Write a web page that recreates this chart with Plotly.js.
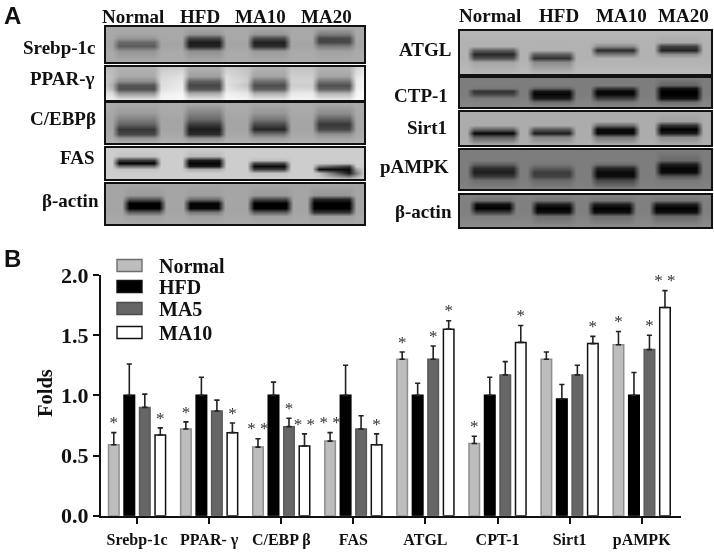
<!DOCTYPE html>
<html>
<head>
<meta charset="utf-8">
<script src="https://cdn.plot.ly/plotly-3.0.1.min.js"></script>
<style>
  html, body { margin: 0; padding: 0; background: #fff; }
  #plot { width: 714px; height: 552px; will-change: transform; }
</style>
</head>
<body>
<div id="plot"></div>
<script>
// Bar chart values
var categories = ['Srebp-1c', 'PPAR- γ', 'C/EBP β', 'FAS', 'ATGL', 'CPT-1', 'Sirt1', 'pAMPK'];
var seriesNames = ['Normal', 'HFD', 'MA5', 'MA10'];

var normalVals = [0.59, 0.72, 0.57, 0.62, 1.30, 0.60, 1.30, 1.42];
var hfdVals = [1.00, 1.00, 1.00, 1.00, 1.00, 1.00, 0.97, 1.00];
var ma5Vals = [0.90, 0.87, 0.74, 0.72, 1.30, 1.17, 1.17, 1.38];
var ma10Vals = [0.67, 0.69, 0.58, 0.59, 1.55, 1.44, 1.43, 1.73];

var normalErr = [0.10, 0.06, 0.07, 0.07, 0.06, 0.06, 0.06, 0.11];
var hfdErr = [0.26, 0.15, 0.11, 0.25, 0.10, 0.15, 0.12, 0.19];
var ma5Err = [0.11, 0.09, 0.07, 0.11, 0.11, 0.11, 0.08, 0.12];
var ma10Err = [0.06, 0.08, 0.10, 0.09, 0.07, 0.14, 0.06, 0.14];

var normalStars = ['*', '*', '* *', '* *', '*', '*', '', '*'];
var hfdStars = ['', '', '', '', '', '', '', ''];
var ma5Stars = ['', '', '*', '', '*', '', '', '*'];
var ma10Stars = ['*', '*', '* *', '*', '*', '*', '*', '* *'];

// Blot panel A, grey levels 0-255. Columns go edge, then 4 stops per lane, then edge
var leftStops = [0, 6, 13, 48, 55, 76, 83, 113, 120, 141, 148, 178, 185, 206, 213, 243, 250, 258];
var actinLeftStops = [0, 16, 23, 53, 60, 77, 84, 112, 119, 141, 148, 180, 187, 201, 208, 243, 250, 258];
var rightStops = [0, 7, 14, 53, 60, 67, 74, 109, 116, 130, 137, 173, 180, 194, 201, 236, 243, 251];
var actinRightStops = [0, 9, 16, 49, 56, 70, 77, 109, 116, 127, 134, 169, 176, 189, 196, 236, 243, 251];

var srebpRows = [0, 7, 11, 15, 19, 24, 35];
var srebpBlot = [
  [170, 170, 170, 170, 170, 170, 170, 170, 170, 170, 170, 170, 170, 170, 170, 170, 170, 170],
  [168, 168, 165, 165, 168, 168, 150, 150, 168, 168, 150, 150, 168, 168, 125, 125, 168, 168],
  [168, 168, 150, 150, 168, 168, 70, 70, 168, 168, 75, 75, 168, 168, 70, 75, 168, 168],
  [165, 165, 105, 105, 165, 165, 28, 28, 165, 165, 32, 32, 165, 165, 70, 72, 165, 165],
  [165, 165, 92, 92, 165, 165, 35, 35, 165, 165, 45, 45, 165, 165, 125, 125, 165, 165],
  [170, 170, 150, 150, 170, 170, 145, 145, 170, 170, 155, 155, 170, 170, 162, 162, 170, 170],
  [172, 172, 172, 172, 172, 172, 172, 172, 172, 172, 172, 172, 172, 172, 172, 172, 172, 172]
];
var pparRows = [0, 9, 14, 18, 22, 26, 33];
var pparBlot = [
  [185, 185, 178, 178, 200, 205, 178, 178, 205, 195, 180, 180, 195, 195, 180, 180, 210, 228],
  [195, 190, 170, 170, 215, 225, 160, 160, 220, 200, 165, 165, 205, 205, 165, 165, 225, 240],
  [195, 185, 140, 140, 220, 232, 95, 95, 225, 205, 110, 110, 210, 210, 115, 115, 235, 245],
  [195, 175, 85, 85, 220, 235, 70, 70, 225, 195, 78, 78, 205, 205, 80, 80, 235, 245],
  [205, 185, 80, 80, 225, 238, 85, 85, 230, 210, 95, 95, 215, 215, 100, 100, 238, 248],
  [225, 220, 150, 150, 238, 245, 170, 170, 240, 230, 175, 175, 232, 235, 180, 180, 245, 250],
  [240, 240, 238, 238, 245, 250, 238, 238, 250, 245, 238, 238, 245, 245, 238, 238, 250, 250]
];
var cebpRows = [0, 10, 16, 21, 26, 31, 35, 40];
var cebpBlot = [
  [172, 172, 170, 170, 172, 172, 170, 170, 172, 172, 170, 170, 172, 172, 170, 170, 172, 172],
  [168, 168, 155, 155, 168, 168, 130, 130, 168, 168, 150, 150, 168, 168, 140, 140, 168, 170],
  [165, 165, 128, 128, 165, 165, 105, 105, 165, 165, 120, 120, 165, 165, 95, 95, 165, 170],
  [165, 165, 100, 100, 165, 165, 60, 60, 165, 165, 75, 75, 165, 165, 55, 55, 165, 170],
  [165, 165, 55, 55, 165, 165, 28, 28, 165, 165, 38, 38, 165, 165, 70, 70, 165, 170],
  [168, 168, 70, 70, 168, 168, 45, 45, 168, 168, 115, 115, 168, 168, 145, 145, 168, 172],
  [172, 172, 150, 150, 172, 172, 145, 145, 172, 172, 160, 160, 172, 172, 165, 165, 172, 175],
  [178, 178, 178, 178, 178, 178, 178, 178, 178, 178, 178, 178, 178, 178, 178, 178, 178, 178]
];
var fasRows = [0, 8, 12, 15, 18, 21, 25, 31];
var fasBlot = [
  [205, 205, 205, 205, 205, 205, 205, 205, 205, 205, 205, 205, 205, 205, 205, 205, 205, 205],
  [205, 205, 195, 195, 205, 205, 185, 185, 205, 205, 205, 205, 205, 205, 205, 205, 205, 205],
  [205, 205, 60, 60, 205, 205, 30, 30, 205, 205, 190, 190, 205, 205, 205, 205, 205, 205],
  [205, 205, 5, 5, 205, 205, 5, 5, 205, 205, 70, 70, 205, 205, 200, 195, 205, 205],
  [205, 205, 110, 110, 205, 205, 25, 25, 205, 205, 10, 10, 205, 205, 120, 60, 205, 205],
  [205, 205, 195, 195, 205, 205, 170, 170, 205, 205, 60, 60, 205, 205, 10, 10, 160, 205],
  [205, 205, 205, 205, 205, 205, 205, 205, 205, 205, 195, 195, 205, 205, 190, 30, 120, 205],
  [205, 205, 205, 205, 205, 205, 205, 205, 205, 205, 205, 205, 205, 205, 205, 200, 205, 205]
];
var actinLeftRows = [0, 11, 15, 19, 24, 28, 32, 40];
var actinLeftBlot = [
  [165, 165, 165, 165, 165, 165, 165, 165, 165, 165, 165, 165, 165, 165, 165, 165, 165, 165],
  [165, 165, 155, 155, 165, 165, 158, 158, 165, 165, 155, 155, 165, 165, 150, 150, 165, 165],
  [165, 165, 85, 85, 165, 165, 110, 110, 165, 165, 70, 70, 165, 165, 35, 35, 165, 165],
  [165, 165, 0, 0, 165, 165, 5, 5, 165, 165, 0, 0, 165, 165, 0, 0, 165, 165],
  [165, 165, 0, 0, 165, 165, 5, 5, 165, 165, 0, 0, 165, 165, 0, 0, 165, 165],
  [165, 165, 95, 95, 165, 165, 120, 120, 165, 165, 90, 90, 165, 165, 50, 50, 165, 165],
  [168, 168, 160, 160, 168, 168, 160, 160, 168, 168, 160, 160, 168, 168, 158, 158, 168, 168],
  [170, 170, 170, 170, 170, 170, 170, 170, 170, 170, 170, 170, 170, 170, 170, 170, 170, 170]
];
var atglRows = [0, 11, 15, 19, 23, 27, 31, 43];
var atglBlot = [
  [182, 182, 182, 182, 182, 182, 182, 182, 182, 182, 182, 182, 182, 182, 182, 182, 182, 182],
  [178, 178, 178, 178, 178, 178, 178, 178, 178, 178, 178, 178, 178, 178, 170, 170, 178, 178],
  [178, 178, 178, 178, 178, 178, 178, 178, 178, 178, 140, 140, 178, 178, 65, 65, 178, 178],
  [178, 178, 95, 95, 178, 178, 175, 175, 178, 178, 45, 45, 178, 178, 35, 35, 178, 178],
  [178, 178, 40, 40, 178, 178, 95, 95, 178, 178, 120, 120, 178, 178, 140, 140, 178, 178],
  [178, 178, 80, 80, 178, 178, 50, 50, 178, 178, 178, 178, 178, 178, 178, 178, 178, 178],
  [180, 180, 165, 165, 180, 180, 140, 140, 180, 180, 180, 180, 180, 180, 180, 180, 180, 180],
  [186, 186, 186, 186, 186, 186, 186, 186, 186, 186, 186, 186, 186, 186, 186, 186, 186, 186]
];
var ctpRows = [0, 7, 10, 13, 16, 20, 24, 29];
var ctpBlot = [
  [125, 125, 125, 125, 125, 125, 125, 125, 125, 125, 125, 125, 125, 125, 125, 125, 125, 125],
  [125, 125, 125, 125, 125, 125, 125, 125, 125, 125, 125, 125, 125, 125, 100, 100, 125, 125],
  [125, 125, 120, 120, 125, 125, 100, 100, 125, 125, 60, 60, 125, 125, 20, 20, 125, 125],
  [125, 125, 50, 50, 125, 125, 20, 20, 125, 125, 8, 8, 125, 125, 0, 0, 125, 125],
  [125, 125, 70, 70, 125, 125, 5, 5, 125, 125, 8, 8, 125, 125, 0, 0, 125, 125],
  [128, 128, 122, 122, 128, 128, 25, 25, 128, 128, 60, 60, 128, 128, 15, 15, 128, 128],
  [132, 132, 130, 130, 132, 132, 110, 110, 132, 132, 120, 120, 132, 132, 110, 110, 132, 132],
  [135, 135, 135, 135, 135, 135, 135, 135, 135, 135, 135, 135, 135, 135, 135, 135, 135, 135]
];
var sirtRows = [0, 9, 13, 17, 21, 25, 33];
var sirtBlot = [
  [172, 172, 172, 172, 172, 172, 172, 172, 172, 172, 172, 172, 172, 172, 172, 172, 172, 172],
  [172, 172, 172, 172, 172, 172, 172, 172, 172, 172, 172, 172, 172, 172, 160, 160, 172, 172],
  [172, 172, 172, 172, 172, 172, 172, 172, 172, 172, 110, 110, 172, 172, 50, 50, 172, 172],
  [172, 172, 100, 100, 172, 172, 90, 90, 172, 172, 10, 10, 172, 172, 0, 0, 172, 172],
  [172, 172, 8, 8, 172, 172, 30, 30, 172, 172, 10, 10, 172, 172, 25, 25, 172, 172],
  [172, 172, 95, 95, 172, 172, 135, 135, 172, 172, 120, 120, 172, 172, 140, 140, 172, 172],
  [176, 176, 176, 176, 176, 176, 176, 176, 176, 176, 176, 176, 176, 176, 176, 176, 176, 176]
];
var ampkRows = [0, 10, 14, 18, 22, 26, 30, 39];
var ampkBlot = [
  [125, 125, 125, 125, 125, 125, 125, 125, 125, 125, 125, 125, 125, 125, 125, 125, 125, 125],
  [125, 125, 125, 125, 125, 125, 125, 125, 125, 125, 125, 125, 125, 125, 105, 105, 125, 125],
  [125, 125, 95, 95, 125, 125, 120, 120, 125, 125, 110, 110, 125, 125, 30, 30, 125, 125],
  [125, 125, 45, 45, 125, 125, 90, 90, 125, 125, 35, 35, 125, 125, 5, 5, 125, 125],
  [125, 125, 30, 30, 125, 125, 60, 60, 125, 125, 10, 10, 125, 125, 10, 10, 125, 125],
  [125, 125, 55, 55, 125, 125, 65, 65, 125, 125, 12, 12, 125, 125, 85, 85, 125, 125],
  [125, 125, 110, 110, 125, 125, 105, 105, 125, 125, 70, 70, 125, 125, 120, 120, 125, 125],
  [130, 130, 130, 130, 130, 130, 130, 130, 130, 130, 130, 130, 130, 130, 130, 130, 130, 130]
];
var actinRightRows = [0, 5, 9, 13, 17, 21, 32];
var actinRightBlot = [
  [130, 130, 130, 130, 130, 130, 130, 130, 130, 130, 130, 130, 130, 130, 130, 130, 130, 130],
  [128, 128, 115, 115, 128, 128, 120, 120, 128, 128, 120, 120, 128, 128, 120, 120, 128, 128],
  [128, 128, 15, 15, 128, 128, 30, 30, 128, 128, 30, 30, 128, 128, 30, 30, 128, 128],
  [128, 128, 0, 0, 128, 128, 0, 0, 128, 128, 0, 0, 128, 128, 0, 0, 128, 128],
  [128, 128, 60, 60, 128, 128, 15, 15, 128, 128, 15, 15, 128, 128, 15, 15, 128, 128],
  [130, 130, 128, 128, 130, 130, 110, 110, 130, 130, 110, 110, 130, 130, 105, 105, 130, 130],
  [140, 140, 140, 140, 140, 140, 140, 140, 140, 140, 140, 140, 140, 140, 140, 140, 140, 140]
];

var W = 714, H = 552;
var serif = 'Liberation Serif, Times New Roman, serif';
var sans = 'Liberation Sans, Arial, sans-serif';

function px(x) { return x / W; }
function py(y) { return 1 - y / H; }

// ------------------------------------------------------------------------
// bars
// ------------------------------------------------------------------------
var ticks = categories.map(function (c, i) { return i; });
var bargap = 0.14;
var slot = (1 - bargap) / 4;

var barStyles = [
  {fill: '#bdbdbd', line: '#8e8e8e', vals: normalVals, err: normalErr, stars: normalStars},
  {fill: '#000000', line: '#000000', vals: hfdVals, err: hfdErr, stars: hfdStars},
  {fill: '#666666', line: '#595959', vals: ma5Vals, err: ma5Err, stars: ma5Stars},
  {fill: '#ffffff', line: '#111111', vals: ma10Vals, err: ma10Err, stars: ma10Stars}
];

var data = [];

barStyles.forEach(function (s, k) {
  data.push({
    type: 'bar',
    name: seriesNames[k],
    x: ticks,
    y: s.vals,
    marker: {color: s.fill, line: {color: s.line, width: 1.5}},
    error_y: {
      type: 'data', symmetric: false, array: s.err,
      arrayminus: s.err.map(function () { return 0; }),
      color: '#222222', thickness: 1.6, width: 2.6
    },
    hoverinfo: 'x+y'
  });
});

barStyles.forEach(function (s, k) {
  data.push({
    type: 'scatter',
    mode: 'text',
    x: ticks.map(function (t) { return t + (k - 1.5) * slot; }),
    y: s.vals.map(function (v, i) { return v + s.err[i]; }),
    text: s.stars,
    textposition: 'top center',
    textfont: {family: serif, size: 17, color: '#333333'},
    showlegend: false,
    hoverinfo: 'skip'
  });
});

// ------------------------------------------------------------------------
// blots, one small subplot each
// ------------------------------------------------------------------------
var blots = [
  {z: srebpBlot, stops: leftStops, rows: srebpRows, box: [106, 364, 27, 62]},
  {z: pparBlot, stops: leftStops, rows: pparRows, box: [106, 364, 67, 100]},
  {z: cebpBlot, stops: leftStops, rows: cebpRows, box: [106, 364, 103, 143]},
  {z: fasBlot, stops: leftStops, rows: fasRows, box: [106, 364, 148, 179]},
  {z: actinLeftBlot, stops: actinLeftStops, rows: actinLeftRows, box: [106, 364, 184, 224]},
  {z: atglBlot, stops: rightStops, rows: atglRows, box: [460, 711, 31, 74]},
  {z: ctpBlot, stops: rightStops, rows: ctpRows, box: [460, 711, 78, 107]},
  {z: sirtBlot, stops: rightStops, rows: sirtRows, box: [460, 711, 112, 145]},
  {z: ampkBlot, stops: rightStops, rows: ampkRows, box: [460, 711, 150, 189]},
  {z: actinRightBlot, stops: actinRightStops, rows: actinRightRows, box: [460, 711, 195, 227]}
];

var layout = {
  width: W,
  height: H,
  margin: {l: 0, r: 0, t: 0, b: 0},
  paper_bgcolor: '#ffffff',
  plot_bgcolor: 'rgba(0,0,0,0)',
  showlegend: false,
  barmode: 'group',
  bargap: bargap,
  bargroupgap: 0.32,
  xaxis: {
    domain: [px(101), px(681)],
    range: [-0.5, 7.545],
    tickmode: 'array',
    tickvals: ticks,
    ticktext: categories,
    tickfont: {family: serif, size: 16, color: '#111111', weight: 'bold'},
    ticks: 'outside',
    ticklen: 6,
    tickwidth: 2.2,
    tickcolor: '#111111',
    ticklabelstandoff: 2,
    showline: true,
    linecolor: '#111111',
    linewidth: 2.4,
    showgrid: false,
    zeroline: false,
    anchor: 'y'
  },
  yaxis: {
    domain: [py(515.7), py(275)],
    range: [0, 2],
    tickvals: [0, 0.5, 1, 1.5, 2],
    ticktext: ['0.0', '0.5', '1.0', '1.5', '2.0'],
    tickfont: {family: serif, size: 22, color: '#111111', weight: 'bold'},
    ticks: 'outside',
    ticklen: 6,
    tickwidth: 2.2,
    tickcolor: '#111111',
    showline: true,
    linecolor: '#111111',
    linewidth: 2.4,
    showgrid: false,
    zeroline: false,
    anchor: 'x'
  },
  shapes: [],
  annotations: []
};

blots.forEach(function (b, i) {
  var n = i + 2;
  data.push({
    type: 'heatmap',
    x: b.stops,
    y: b.rows,
    z: b.z,
    xaxis: 'x' + n,
    yaxis: 'y' + n,
    zmin: 0,
    zmax: 255,
    zsmooth: 'best',
    colorscale: [[0, '#000000'], [1, '#ffffff']],
    showscale: false,
    hoverinfo: 'skip'
  });
  var frame = {
    showline: true, mirror: true, linecolor: '#111111', linewidth: 2,
    ticks: '', showticklabels: false, showgrid: false, zeroline: false
  };
  layout['xaxis' + n] = Object.assign({}, frame, {
    domain: [px(b.box[0]), px(b.box[1])],
    range: [b.stops[0], b.stops[b.stops.length - 1]],
    anchor: 'y' + n
  });
  layout['yaxis' + n] = Object.assign({}, frame, {
    domain: [py(b.box[3]), py(b.box[2])],
    range: [b.rows[b.rows.length - 1], 0],
    anchor: 'x' + n
  });
});

function label(text, x, y, size, family) {
  layout.annotations.push({
    text: '<b>' + text + '</b>',
    xref: 'paper', yref: 'paper',
    x: px(x), y: py(y),
    xanchor: 'center', yanchor: 'middle',
    showarrow: false,
    font: {family: family || serif, size: size, color: '#111111'}
  });
}

label('A', 12, 15, 24, sans);
label('B', 12, 258, 24, sans);

label('Normal', 133, 16, 19);
label('HFD', 200, 16, 19);
label('MA10', 260, 16, 19);
label('MA20', 326, 16, 19);
label('Normal', 490, 15, 19);
label('HFD', 559, 15, 19);
label('MA10', 621, 15, 19);
label('MA20', 683, 15, 19);

label('Srebp-1c', 59, 47, 19);
label('PPAR-γ', 62, 79, 19);
label('C/EBPβ', 63, 119, 19);
label('FAS', 77, 157, 19);
label('β-actin', 70, 201, 19);
label('ATGL', 425, 49, 19);
label('CTP-1', 421, 95, 19);
label('Sirt1', 427, 127, 19);
label('pAMPK', 414, 166, 19);
label('β-actin', 423, 212, 19);

// Folds
layout.annotations.push({
  text: '<b>Folds</b>',
  xref: 'paper', yref: 'paper',
  x: px(45), y: py(393),
  xanchor: 'center', yanchor: 'middle',
  textangle: -90,
  showarrow: false,
  font: {family: serif, size: 20.5, color: '#111111'}
});

// legend boxes are wider than the ones plotly draws, so they are shapes
var legendRows = [265.5, 286.5, 308.5, 332.5];
barStyles.forEach(function (s, k) {
  layout.shapes.push({
    type: 'rect', xref: 'paper', yref: 'paper',
    x0: px(117), x1: px(142),
    y0: py(legendRows[k] - 6), y1: py(legendRows[k] + 6),
    fillcolor: s.fill,
    line: {color: k == 0 ? '#6e6e6e' : k == 2 ? '#4a4a4a' : '#111111', width: 1.4}
  });
  layout.annotations.push({
    text: '<b>' + seriesNames[k] + '</b>',
    xref: 'paper', yref: 'paper',
    x: px(157), y: py(legendRows[k]),
    xanchor: 'left', yanchor: 'middle',
    showarrow: false,
    font: {family: serif, size: 20, color: '#111111'}
  });
});

var config = {displayModeBar: false, responsive: false};

Plotly.newPlot('plot', data, layout, config);
</script>
</body>
</html>
